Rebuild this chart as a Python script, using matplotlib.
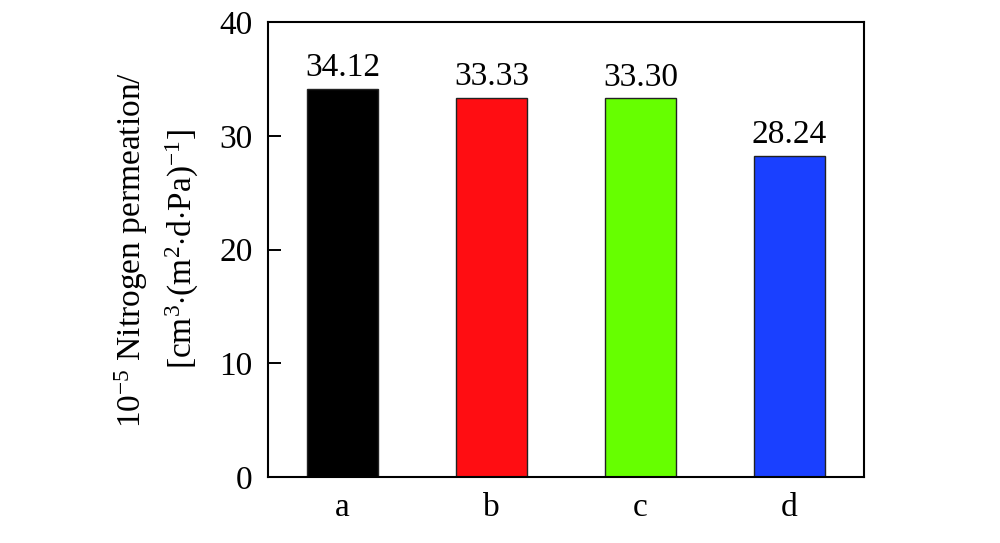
import matplotlib
matplotlib.use("Agg")
import matplotlib.pyplot as plt

# ── Data ──────────────────────────────────────────────────────────────────────
samples = ["a", "b", "c", "d"]
permeation = [34.12, 33.33, 33.30, 28.24]
bar_colors = ["#000000", "#ff0d12", "#66ff00", "#1a40ff"]

# ── Style ─────────────────────────────────────────────────────────────────────
plt.rcParams.update({
    "font.family": "Liberation Serif",
    "mathtext.fontset": "custom",
    "mathtext.rm": "Liberation Serif",
    "mathtext.it": "Liberation Serif:italic",
    "mathtext.bf": "Liberation Serif:bold",
})

fig = plt.figure(figsize=(10, 5.43), dpi=100)
ax = fig.add_axes([0.268, 0.1215, 0.596, 0.838])

x = range(len(samples))
bars = ax.bar(x, permeation, width=0.48, color=bar_colors,
              edgecolor="#222222", linewidth=1.0)

for xi, v in zip(x, permeation):
    ax.text(xi, v + 0.5, f"{v:.2f}", ha="center", va="bottom", fontsize=24)

ax.set_xlim(-0.5, 3.5)
ax.set_ylim(0, 40)
ax.set_yticks([0, 10, 20, 30, 40])
ax.set_xticks(list(x))
ax.set_xticklabels(samples)
ax.tick_params(axis="y", direction="in", length=9.5, width=1.4, labelsize=24, pad=11)
ax.tick_params(axis="x", length=0, labelsize=24, pad=11)
for sp in ax.spines.values():
    sp.set_linewidth(1.5)

ax.set_ylabel("$10^{-5}$ Nitrogen permeation/\n"
              "[cm$^{3}$$\\cdot$(m$^{2}$$\\cdot$d$\\cdot$Pa)$^{-1}$]",
              fontsize=24, linespacing=1.5)
ax.yaxis.set_label_coords(-0.112, 0.5)

fig.savefig("out.png", dpi=100, facecolor="white")
